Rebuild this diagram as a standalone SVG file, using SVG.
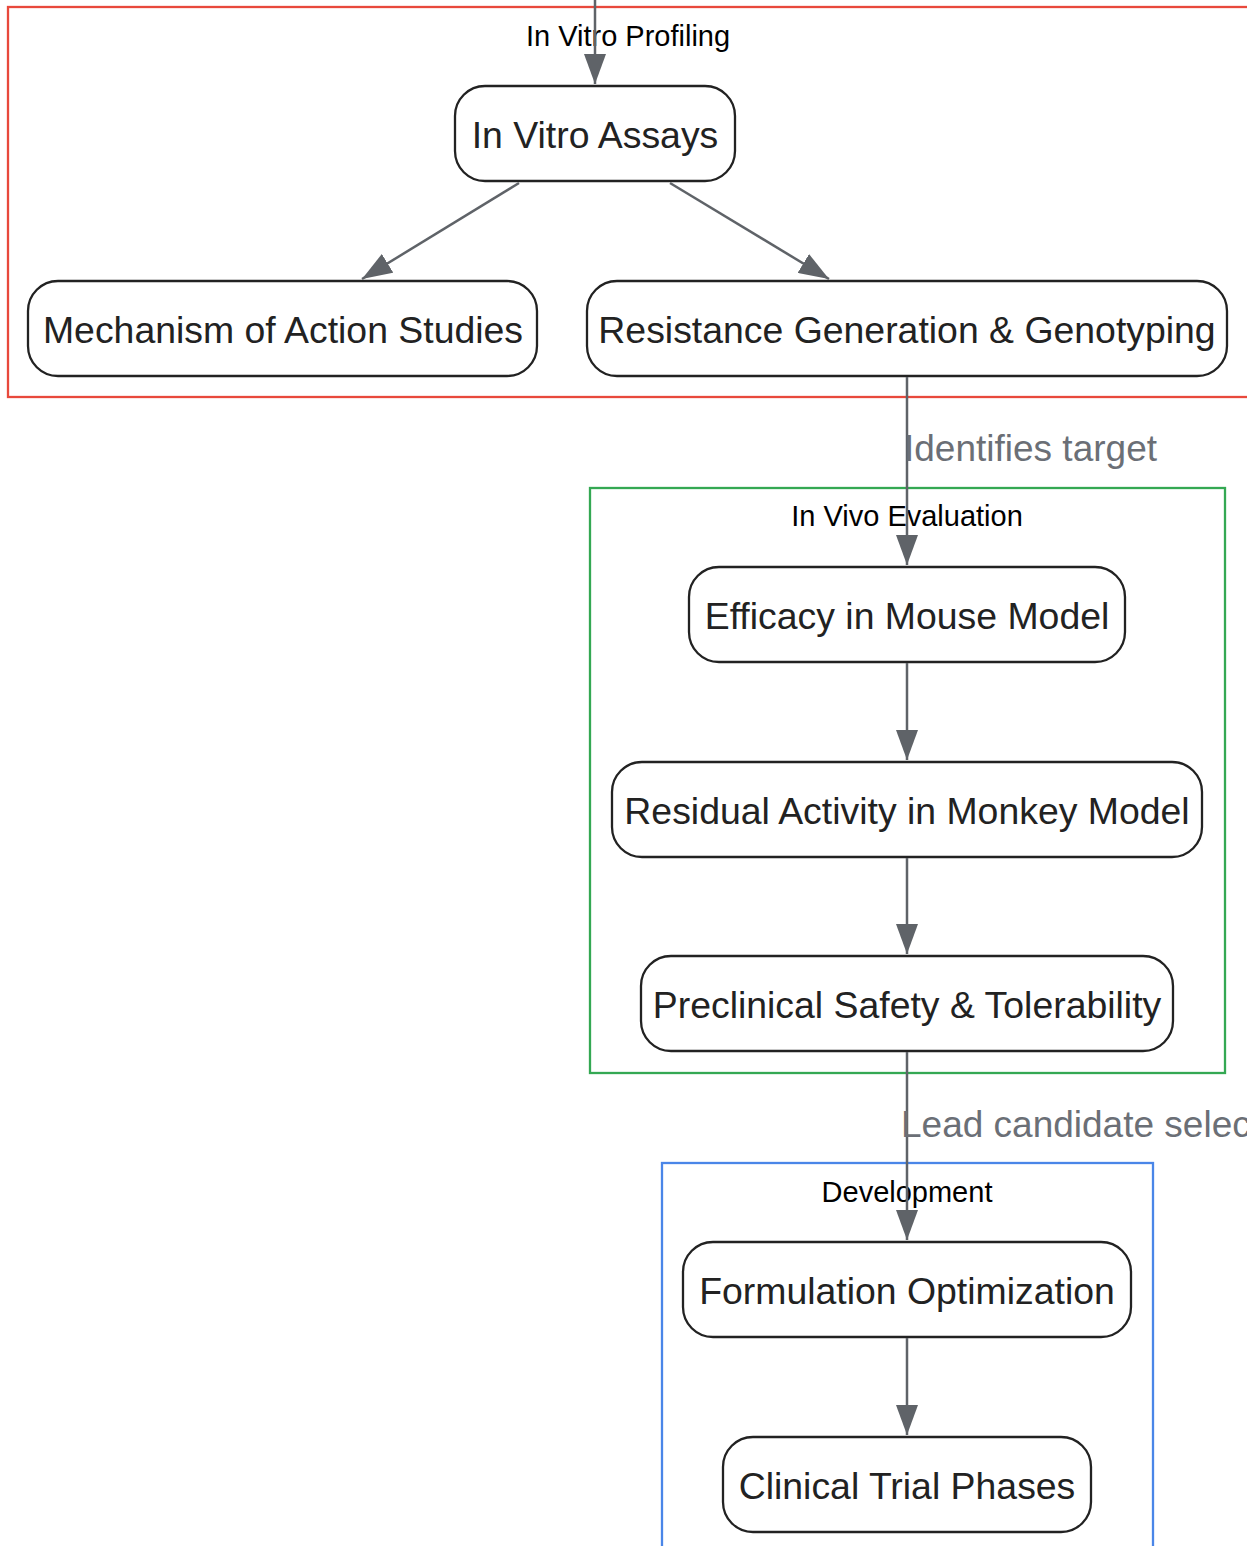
<svg xmlns="http://www.w3.org/2000/svg" width="1247" height="1546" viewBox="0 0 1247 1546">
<defs>
<marker id="arr" markerUnits="userSpaceOnUse" markerWidth="30" markerHeight="22" refX="30" refY="11" orient="auto">
<path d="M0,0 L30,11 L0,22 z" fill="#5f6368"/>
</marker>
<style>
.cl{fill:none;stroke-width:2.3}
.ct{font-family:"Liberation Sans",Arial,sans-serif;font-size:29px;fill:#000;text-anchor:middle}
.nd rect{fill:#fff;stroke:#222;stroke-width:2.3}
.nd text{font-family:"Liberation Sans",Arial,sans-serif;font-size:37.4px;fill:#222;text-anchor:middle}
.ed{stroke:#5f6368;stroke-width:2.5;fill:none;marker-end:url(#arr)}
.el{font-family:"Liberation Sans",Arial,sans-serif;font-size:37px;fill:#6b6f76}
</style>
</defs>
<rect width="1247" height="1546" fill="#fff"/>
<g id="clusters">
<rect class="cl" x="8" y="7" width="1260" height="390" stroke="#e8493c"/>
<text class="ct" x="628" y="46">In Vitro Profiling</text>
<rect class="cl" x="590" y="488" width="635" height="585" stroke="#34a853"/>
<text class="ct" x="907" y="526">In Vivo Evaluation</text>
<rect class="cl" x="662" y="1163" width="491" height="420" stroke="#4a86e8"/>
<text class="ct" x="907" y="1202">Development</text>
</g>
<g id="nodes">
<g id="n1" class="nd"><rect x="455" y="86" width="280" height="95" rx="30"/><text x="595" y="148">In Vitro Assays</text></g>
<g id="n2" class="nd"><rect x="28" y="281" width="509" height="95" rx="30"/><text x="283" y="343">Mechanism of Action Studies</text></g>
<g id="n3" class="nd"><rect x="587" y="281" width="640" height="95" rx="30"/><text x="907" y="343">Resistance Generation &amp; Genotyping</text></g>
<g id="n4" class="nd"><rect x="689" y="567" width="436" height="95" rx="30"/><text x="907" y="629">Efficacy in Mouse Model</text></g>
<g id="n5" class="nd"><rect x="612" y="762" width="590" height="95" rx="30"/><text x="907" y="824">Residual Activity in Monkey Model</text></g>
<g id="n6" class="nd"><rect x="641" y="956" width="532" height="95" rx="30"/><text x="907" y="1018">Preclinical Safety &amp; Tolerability</text></g>
<g id="n7" class="nd"><rect x="683" y="1242" width="448" height="95" rx="30"/><text x="907" y="1304">Formulation Optimization</text></g>
<g id="n8" class="nd"><rect x="723" y="1437" width="368" height="95" rx="30"/><text x="907" y="1499">Clinical Trial Phases</text></g>
</g>
<g id="connectors">
<line class="ed" x1="595" y1="0" x2="595" y2="84"/>
<line class="ed" x1="519" y1="183" x2="362" y2="279"/>
<line class="ed" x1="670" y1="183" x2="829" y2="279"/>
<line class="ed" x1="907" y1="377" x2="907" y2="565"/>
<line class="ed" x1="907" y1="663" x2="907" y2="760"/>
<line class="ed" x1="907" y1="858" x2="907" y2="954"/>
<line class="ed" x1="907" y1="1052" x2="907" y2="1240"/>
<line class="ed" x1="907" y1="1338" x2="907" y2="1435"/>
<text class="el" x="904" y="461">Identifies target</text>
<text class="el" x="901" y="1137">Lead candidate selection</text>
</g>
</svg>
